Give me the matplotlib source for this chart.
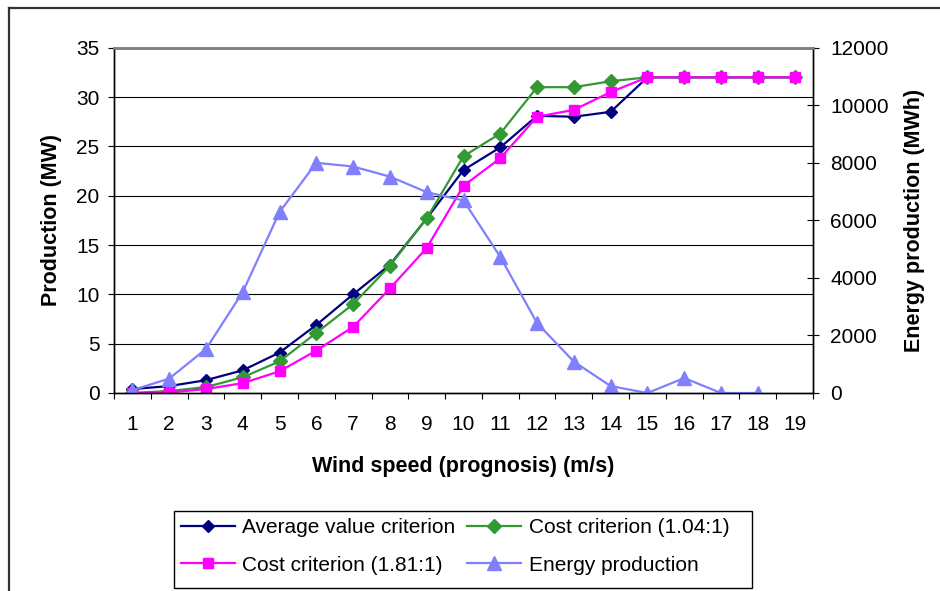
import numpy as np
import matplotlib.pyplot as plt
from matplotlib.lines import Line2D
from matplotlib.patches import Rectangle

plt.rcParams['font.family'] = ['Liberation Sans', 'DejaVu Sans']

wind_speed = list(range(1, 20))
avg_value = [0.4, 0.7, 1.3, 2.3, 4.1, 6.9, 10.0, 13.0, 17.7, 22.6, 24.9, 28.1, 28.0, 28.5, 32, 32, 32, 32, 32]
cost_104 = [0.0, 0.2, 0.6, 1.6, 3.2, 6.1, 9.0, 12.9, 17.7, 24.0, 26.3, 31.0, 31.0, 31.6, 32, 32, 32, 32, 32]
cost_181 = [0.0, 0.05, 0.4, 1.0, 2.2, 4.3, 6.7, 10.6, 14.7, 21.0, 23.8, 28.0, 28.7, 30.5, 32, 32, 32, 32, 32]
energy = [100, 500, 1530, 3510, 6290, 8000, 7870, 7520, 6980, 6690, 4730, 2430, 1090, 240, 0, 520, 0, 0, np.nan]

W, H = 940, 591
fig = plt.figure(figsize=(W / 100, H / 100), dpi=100)
ax = fig.add_axes([114 / W, 1 - 393 / H, (813 - 114) / W, (393 - 47.7) / H])
ax2 = ax.twinx()

# left axis: production curves
l1, = ax.plot(wind_speed, avg_value, color='#000080', lw=1.6, marker='D', ms=6.3, label='Average value criterion')
l2, = ax.plot(wind_speed, cost_104, color='#339933', lw=1.6, marker='D', ms=7.6, label='Cost criterion (1.04:1)')
l3, = ax.plot(wind_speed, cost_181, color='#FF00FF', lw=1.6, marker='s', ms=7.8, label='Cost criterion (1.81:1)')
# right axis: energy
l4, = ax2.plot(wind_speed, energy, color='#8080FF', lw=1.6, marker='^', ms=9.5, label='Energy production')

ax.set_xlim(0.5, 19.5)
ax.set_ylim(0, 35)
ax2.set_ylim(0, 12000)
ax.set_yticks(np.arange(0, 36, 5))
ax2.set_yticks(np.arange(0, 12001, 2000))
ax.set_xticks(wind_speed)
ax.set_xticks(np.arange(0.5, 20, 1), minor=True)

for y in range(5, 35, 5):
    ax.axhline(y, color='black', lw=0.8, zorder=0)

fs = 15
ax.tick_params(axis='x', which='major', length=0, pad=16, labelsize=fs)
ax.tick_params(axis='x', which='minor', length=4, width=0.8, direction='out')
ax.tick_params(axis='y', length=4.5, width=0.8, direction='out', pad=6, labelsize=fs)
ax2.tick_params(axis='y', length=8.5, width=0.8, direction='inout', pad=8, labelsize=fs)

for a in (ax, ax2):
    for side in ['left', 'right', 'bottom']:
        a.spines[side].set_color('black')
        a.spines[side].set_linewidth(1.0)
    a.spines['top'].set_color('#808080')
    a.spines['top'].set_linewidth(1.8)

ax.set_ylabel('Production (MW)', fontsize=15.5, fontweight='bold', labelpad=10)
ax2.set_ylabel('Energy production (MWh)', fontsize=15.5, fontweight='bold', labelpad=11)
ax.set_xlabel('Wind speed (prognosis) (m/s)', fontsize=15.5, fontweight='bold', labelpad=16)

# legend box drawn separately, entries placed inside it
fig.add_artist(Rectangle((174 / W, 1 - 588 / H), (752 - 174) / W, (588 - 511) / H,
                         transform=fig.transFigure, fill=False, edgecolor='black', lw=1.0))
leg = fig.legend(handles=[l1, l3, l2, l4], ncol=2, loc='upper left',
                 bbox_to_anchor=(181 / W, 1 - 518 / H), fontsize=fs, frameon=False,
                 borderpad=0, borderaxespad=0, handlelength=2.6, handletextpad=0.35,
                 columnspacing=0.55, labelspacing=0.9)

# chart border
fig.add_artist(Line2D([9 / W, 1], [1 - 8 / H, 1 - 8 / H], transform=fig.transFigure, color='#333333', lw=1.6))
fig.add_artist(Line2D([9 / W, 9 / W], [0, 1 - 8 / H], transform=fig.transFigure, color='#333333', lw=1.6))

fig.savefig('out.png', dpi=100)
